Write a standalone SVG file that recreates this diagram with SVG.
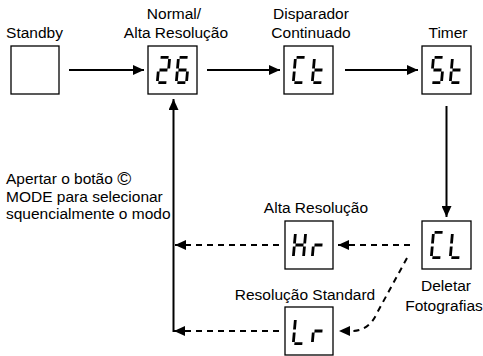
<svg xmlns="http://www.w3.org/2000/svg" xmlns:xlink="http://www.w3.org/1999/xlink" width="483" height="356" viewBox="0 0 483 356">
  <style>
    .lbl { font-family: "Liberation Sans", Arial, sans-serif; font-size: 15.5px; fill: #000; }
    .mid { text-anchor: middle; }
    .box { fill: #fff; stroke: #000; stroke-width: 1.3; }
    .seg { fill: none; stroke: #000; stroke-width: 2.8; stroke-linecap: butt; }
    .solid { fill: none; stroke: #000; stroke-width: 2; }
    .dash { fill: none; stroke: #000; stroke-width: 2; stroke-dasharray: 6 5; }
  </style>
  <defs>
    <marker id="head" markerUnits="userSpaceOnUse" markerWidth="12" markerHeight="10" refX="11" refY="5" orient="auto">
      <path d="M0,0 L11,5 L0,10 Z" fill="#000"/>
    </marker>
    <!-- seven-segment glyphs, cell 13 x 28 -->
    <path id="g2" class="seg" transform="translate(1.2,0) skewX(-5)" d="M2.5,1.4H10.5 M11.6,3V12.6 M2.5,14H10.5 M1.4,15.4V25 M2.5,26.6H10.5"/>
    <path id="g6" class="seg" transform="translate(1.2,0) skewX(-5)" d="M2.5,1.4H10.5 M1.4,3V12.6 M2.5,14H10.5 M1.4,15.4V25 M11.6,15.4V25 M2.5,26.6H10.5"/>
    <path id="gC" class="seg" transform="translate(1.2,0) skewX(-5)" d="M2.5,1.4H10.5 M1.4,3V12.6 M1.4,15.4V25 M2.5,26.6H10.5"/>
    <path id="gt" class="seg" transform="translate(1.2,0) skewX(-5)" d="M1.4,3V12.6 M2.5,14H10.5 M1.4,15.4V25 M2.5,26.6H10.5"/>
    <path id="gS" class="seg" transform="translate(1.2,0) skewX(-5)" d="M2.5,1.4H10.5 M1.4,3V12.6 M2.5,14H10.5 M11.6,15.4V25 M2.5,26.6H10.5"/>
    <path id="gL" class="seg" transform="translate(1.2,0) skewX(-5)" d="M1.4,3V12.6 M1.4,15.4V25 M2.5,26.6H10.5"/>
    <path id="gH" class="seg" transform="translate(1.2,0) skewX(-5)" d="M1.4,3V12.6 M11.6,3V12.6 M2.5,14H10.5 M1.4,15.4V25 M11.6,15.4V25"/>
    <path id="gr" class="seg" transform="translate(1.2,0) skewX(-5)" d="M2.5,14H10.5 M1.4,15.4V25"/>
  </defs>

  <rect width="483" height="356" fill="#fff"/>

  <g id="connectors">
    <line class="solid" x1="69" y1="70" x2="144" y2="70" marker-end="url(#head)"/>
    <line class="solid" x1="207" y1="70" x2="280" y2="70" marker-end="url(#head)"/>
    <line class="solid" x1="345" y1="70" x2="418" y2="70" marker-end="url(#head)"/>
    <line class="solid" x1="446.5" y1="106" x2="446.5" y2="217" marker-end="url(#head)"/>
    <line class="dash" x1="410" y1="245" x2="338" y2="245" marker-end="url(#head)"/>
    <line class="dash" x1="279" y1="245" x2="175" y2="245" marker-end="url(#head)"/>
    <path class="dash" d="M407,258 L377,313 Q369,331 352,331 L339,331" marker-end="url(#head)"/>
    <line class="dash" x1="279" y1="331" x2="174" y2="331" marker-end="url(#head)"/>
    <line class="solid" x1="173.5" y1="332" x2="173.5" y2="99" marker-end="url(#head)"/>
  </g>

  <g id="standby">
    <rect class="box" x="11" y="46" width="48" height="48"/>
    <text class="lbl mid" x="34.5" y="38">Standby</text>
  </g>

  <g id="normal">
    <rect class="box" x="148" y="46" width="49" height="48"/>
    <use href="#g2" x="157" y="56"/>
    <use href="#g6" x="176" y="56"/>
    <text class="lbl mid" x="174" y="19">Normal/</text>
    <text class="lbl mid" x="176" y="38">Alta Resolução</text>
  </g>

  <g id="continuado">
    <rect class="box" x="284" y="46" width="49" height="48"/>
    <use href="#gC" x="293" y="56"/>
    <use href="#gt" x="312" y="56"/>
    <text class="lbl mid" x="311" y="19">Disparador</text>
    <text class="lbl mid" x="311" y="38">Continuado</text>
  </g>

  <g id="timer">
    <rect class="box" x="422" y="46" width="49" height="48"/>
    <use href="#gS" x="431" y="56"/>
    <use href="#gt" x="450" y="56"/>
    <text class="lbl mid" x="448" y="38">Timer</text>
  </g>

  <g id="deletar">
    <rect class="box" x="422" y="221" width="49" height="48"/>
    <use href="#gC" x="431" y="231"/>
    <use href="#gL" x="450" y="231"/>
    <text class="lbl mid" x="446" y="291">Deletar</text>
    <text class="lbl mid" x="444" y="311">Fotografias</text>
  </g>

  <g id="alta">
    <rect class="box" x="285" y="221" width="48" height="48"/>
    <use href="#gH" x="293" y="231"/>
    <use href="#gr" x="312" y="231"/>
    <text class="lbl mid" x="316" y="213">Alta Resolução</text>
  </g>

  <g id="standard">
    <rect class="box" x="285" y="307" width="48" height="48"/>
    <use href="#gL" x="293" y="317"/>
    <use href="#gr" x="312" y="317"/>
    <text class="lbl mid" x="305" y="300">Resolução Standard</text>
  </g>

  <g id="note">
    <text class="lbl" x="6" y="184">Apertar o botão <tspan font-size="19" dy="1">©</tspan></text>
    <text class="lbl" x="6" y="201.5">MODE para selecionar</text>
    <text class="lbl" x="6" y="219">squencialmente o modo</text>
  </g>
</svg>
